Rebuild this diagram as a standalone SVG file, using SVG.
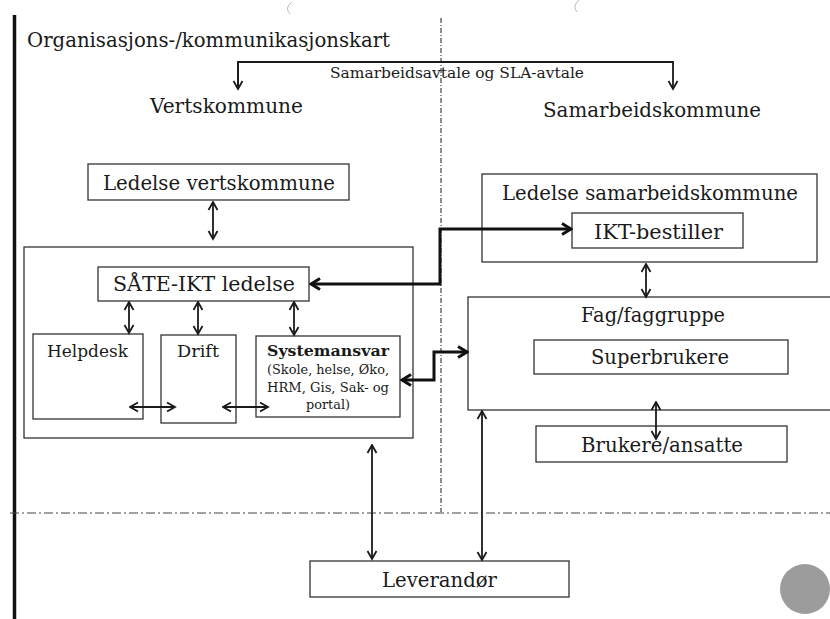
<svg xmlns="http://www.w3.org/2000/svg" width="830" height="619" viewBox="0 0 830 619">
<style>
text{font-family:"DejaVu Serif","Liberation Serif",serif;fill:#1a1a1a}
.box{fill:#fff;stroke:#333;stroke-width:1.3}
.thin{fill:none;stroke:#1a1a1a;stroke-width:1.8}
.thick{fill:none;stroke:#111;stroke-width:3}
.dd{fill:none;stroke:#444;stroke-width:1.2}
</style>
<defs>
<marker id="ah" markerUnits="userSpaceOnUse" viewBox="0 0 12 12" refX="10.5" refY="6" markerWidth="12" markerHeight="12" orient="auto-start-reverse">
<path d="M2.5,1.5 L10.5,6 L2.5,10.5" fill="none" stroke="#1a1a1a" stroke-width="1.8"/>
</marker>
<marker id="ahT" markerUnits="userSpaceOnUse" viewBox="0 0 14 14" refX="12" refY="7" markerWidth="14" markerHeight="14" orient="auto-start-reverse">
<path d="M3,1.5 L12,7 L3,12.5" fill="none" stroke="#111" stroke-width="3"/>
</marker>
</defs>
<rect width="830" height="619" fill="#fff"/>
<!-- scan artifacts -->
<path d="M292,2 Q284,8 290,14" fill="none" stroke="#bbb" stroke-width="1"/>
<path d="M579,0 Q572,6 577,12" fill="none" stroke="#bbb" stroke-width="1"/>
<circle cx="805" cy="589" r="25" fill="#9c9c9c"/>
<!-- page border -->
<line x1="14.5" y1="15" x2="14.5" y2="619" stroke="#111" stroke-width="3.5"/>
<!-- dividers -->
<g id="dividers">
<path class="dd" d="M441,18 V512" stroke-dasharray="5 2 1 2"/>
<path class="dd" d="M10,513 H830" stroke-dasharray="9 3 2 3"/>
</g>
<g id="title">
<text x="27" y="47" font-size="21" textLength="363" lengthAdjust="spacingAndGlyphs">Organisasjons-/kommunikasjonskart</text>
</g>
<g id="vertskommune"><text x="150" y="113" font-size="20" textLength="153" lengthAdjust="spacingAndGlyphs">Vertskommune</text></g>
<g id="samarbeidskommune"><text x="543" y="117" font-size="20" textLength="218" lengthAdjust="spacingAndGlyphs">Samarbeidskommune</text></g>
<g id="ledelse-vertskommune">
<rect class="box" x="88" y="164" width="261" height="36"/>
<text x="103" y="190" font-size="20" textLength="232" lengthAdjust="spacingAndGlyphs">Ledelse vertskommune</text>
</g>
<g id="saete-ikt">
<rect class="box" x="24" y="247" width="389" height="191"/>
</g>
<g id="saete-ikt-ledelse">
<rect class="box" x="98" y="267" width="211" height="34"/>
<text x="113" y="291" font-size="20" textLength="182" lengthAdjust="spacingAndGlyphs">SÅTE-IKT ledelse</text>
</g>
<g id="helpdesk">
<rect class="box" x="33" y="334" width="110" height="85"/>
<text x="47" y="357" font-size="16" textLength="81" lengthAdjust="spacingAndGlyphs">Helpdesk</text>
</g>
<g id="drift">
<rect class="box" x="161" y="335" width="75" height="88"/>
<text x="177" y="357" font-size="16" textLength="42" lengthAdjust="spacingAndGlyphs">Drift</text>
</g>
<g id="systemansvar">
<rect class="box" x="256" y="336" width="144" height="81"/>
<text x="267" y="356" font-size="14" font-weight="bold" textLength="122" lengthAdjust="spacingAndGlyphs">Systemansvar</text>
<text x="267" y="374" font-size="13" textLength="122" lengthAdjust="spacingAndGlyphs">(Skole, helse, Øko,</text>
<text x="267" y="392" font-size="13" textLength="122" lengthAdjust="spacingAndGlyphs">HRM, Gis, Sak- og</text>
<text x="306" y="409" font-size="13" textLength="44" lengthAdjust="spacingAndGlyphs">portal)</text>
</g>
<g id="ledelse-samarbeidskommune">
<rect class="box" x="482" y="174" width="335" height="88"/>
<text x="502" y="200" font-size="20" textLength="296" lengthAdjust="spacingAndGlyphs">Ledelse samarbeidskommune</text>
</g>
<g id="ikt-bestiller">
<rect class="box" x="572" y="213" width="171" height="35"/>
<text x="594" y="239" font-size="20" textLength="129" lengthAdjust="spacingAndGlyphs">IKT-bestiller</text>
</g>
<g id="fag">
<rect class="box" x="468" y="297" width="370" height="113"/>
<text x="581" y="322" font-size="20" textLength="144" lengthAdjust="spacingAndGlyphs">Fag/faggruppe</text>
</g>
<g id="superbrukere">
<rect class="box" x="534" y="340" width="254" height="34"/>
<text x="591" y="364" font-size="20" textLength="138" lengthAdjust="spacingAndGlyphs">Superbrukere</text>
</g>
<g id="brukere">
<rect class="box" x="536" y="426" width="251" height="36"/>
<text x="581" y="452" font-size="20" textLength="162" lengthAdjust="spacingAndGlyphs">Brukere/ansatte</text>
</g>
<g id="leverandor">
<rect class="box" x="310" y="561" width="259" height="36"/>
<text x="382" y="587" font-size="20" textLength="115" lengthAdjust="spacingAndGlyphs">Leverandør</text>
</g>
<g id="connectors">
<path class="thin" d="M238,89 V62 H673 V89" marker-end="url(#ah)"/>
<path class="thin" d="M238,62 V89" marker-end="url(#ah)"/>
<path class="thin" d="M213,202 V239" marker-start="url(#ah)" marker-end="url(#ah)"/>
<path class="thin" d="M129,302 V333" marker-start="url(#ah)" marker-end="url(#ah)"/>
<path class="thin" d="M198,302 V334" marker-start="url(#ah)" marker-end="url(#ah)"/>
<path class="thin" d="M294,302 V335" marker-start="url(#ah)" marker-end="url(#ah)"/>
<path class="thin" d="M130,407 H175" marker-start="url(#ah)" marker-end="url(#ah)"/>
<path class="thin" d="M223,407 H268" marker-start="url(#ah)" marker-end="url(#ah)"/>
<path class="thin" d="M646,264 V297" marker-start="url(#ah)" marker-end="url(#ah)"/>
<path class="thin" d="M656,402 V439" marker-start="url(#ah)" marker-end="url(#ah)"/>
<path class="thin" d="M372,445 V559" marker-start="url(#ah)" marker-end="url(#ah)"/>
<path class="thin" d="M482,411 V560" marker-start="url(#ah)" marker-end="url(#ah)"/>
<path class="thick" d="M311,284 H440 V229 H571" marker-start="url(#ahT)" marker-end="url(#ahT)"/>
<path class="thick" d="M402,380 H434 V352 H467" marker-start="url(#ahT)" marker-end="url(#ahT)"/>
</g>
<g id="sla-label">
<text x="330" y="78" font-size="14" textLength="254" lengthAdjust="spacingAndGlyphs">Samarbeidsavtale og SLA-avtale</text>
</g>
</svg>
